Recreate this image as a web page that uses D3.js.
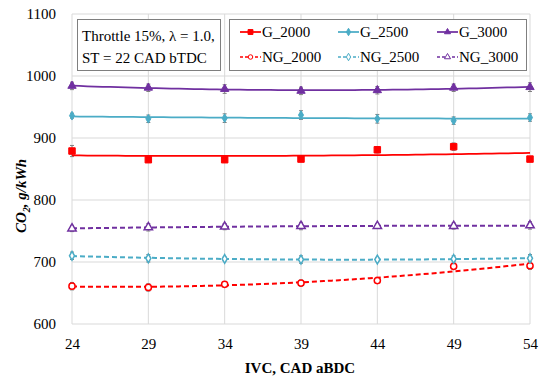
<!DOCTYPE html>
<html>
<head>
<meta charset="utf-8">
<script src="https://cdn.jsdelivr.net/npm/d3@7"></script>
<style>
  body { margin: 0; background: #fff; }
</style>
</head>
<body>
<svg width="550" height="379"></svg>
<script>
// IVC positions
var ivc = [24, 29, 34, 39, 44, 49, 54];

// CO2 values, g/kWh
var G_2000 = [879, 865, 865, 866, 881, 886, 866];
var G_2500 = [936, 931, 932, 937, 931, 928, 933];
var G_3000 = [984, 981, 979, 976, 977, 981, 982];
var NG_2000 = [661, 659, 664, 666, 670, 693, 694];
var NG_2500 = [710, 706, 705, 704, 704, 705, 706];
var NG_3000 = [754, 756, 757, 758, 758, 758, 759];

// error bar half-widths
var G_2000_err = [9, 4, 4, 4, 5, 6, 4];
var G_2500_err = [4, 6, 7, 7, 7, 6, 6];
var G_3000_err = [6, 6, 7, 6, 6, 6, 7];
var NG_2000_err = [6, 6, 4, 5, 4, 5, 6];
var NG_2500_err = [6, 6, 3, 6, 3, 5, 6];
var NG_3000_err = [5, 6, 5, 6, 4, 5, 6];

var yTicks = [600, 700, 800, 900, 1000, 1100];

var FONT = "'Liberation Serif', 'Times New Roman', serif";

var series = [
  { name: "G_2000", values: G_2000, err: G_2000_err, color: "#ff0000", dash: null, shape: "square", open: false },
  { name: "G_2500", values: G_2500, err: G_2500_err, color: "#4bacc6", dash: null, shape: "diamond", open: false },
  { name: "G_3000", values: G_3000, err: G_3000_err, color: "#7030a0", dash: null, shape: "triangle", open: false },
  { name: "NG_2000", values: NG_2000, err: NG_2000_err, color: "#ff0000", dash: "5,3", shape: "circle", open: true },
  { name: "NG_2500", values: NG_2500, err: NG_2500_err, color: "#4bacc6", dash: "5,3", shape: "diamond", open: true },
  { name: "NG_3000", values: NG_3000, err: NG_3000_err, color: "#7030a0", dash: "5,3", shape: "triangle", open: true }
];

var svg = d3.select("svg");
var margin = { left: 72, top: 14 };

var x = d3.scaleLinear().domain([24, 54]).range([0, 458]);
var y = d3.scaleLinear().domain([600, 1100]).range([310, 0]);

var g = svg.append("g")
  .attr("transform", "translate(" + margin.left + "," + margin.top + ")");

// grid
g.append("g").selectAll("line").data(yTicks).enter().append("line")
  .attr("x1", 0).attr("x2", x(54))
  .attr("y1", function (d) { return y(d); }).attr("y2", function (d) { return y(d); })
  .attr("stroke", "#d9d9d9").attr("stroke-width", 1);
g.append("g").selectAll("line").data(ivc).enter().append("line")
  .attr("x1", function (d) { return x(d); }).attr("x2", function (d) { return x(d); })
  .attr("y1", 0).attr("y2", y(600))
  .attr("stroke", "#d9d9d9").attr("stroke-width", 1);

// axes text
var xAxis = g.append("g").attr("transform", "translate(0," + y(600) + ")")
  .call(d3.axisBottom(x).tickValues(ivc).tickFormat(d3.format("d")).tickSize(0).tickPadding(14));
var yAxis = g.append("g")
  .call(d3.axisLeft(y).tickValues(yTicks).tickFormat(d3.format("d")).tickSize(0).tickPadding(16));
[xAxis, yAxis].forEach(function (a) {
  a.select(".domain").remove();
  a.selectAll("text").style("font-family", FONT).style("font-size", "15px").attr("fill", "#000");
});

// quadratic trend fit (least squares)
function quadFit(xs, ys) {
  var n = xs.length, s = [0, 0, 0, 0, 0], t = [0, 0, 0];
  for (var i = 0; i < n; i++) {
    var xi = xs[i] - 39;
    for (var k = 0; k < 5; k++) s[k] += Math.pow(xi, k);
    for (var k = 0; k < 3; k++) t[k] += ys[i] * Math.pow(xi, k);
  }
  var A = [[s[0], s[1], s[2], t[0]], [s[1], s[2], s[3], t[1]], [s[2], s[3], s[4], t[2]]];
  for (var c = 0; c < 3; c++) {
    for (var r = c + 1; r < 3; r++) {
      var f = A[r][c] / A[c][c];
      for (var k = c; k < 4; k++) A[r][k] -= f * A[c][k];
    }
  }
  var co = [0, 0, 0];
  for (var r = 2; r >= 0; r--) {
    var v = A[r][3];
    for (var k = r + 1; k < 3; k++) v -= A[r][k] * co[k];
    co[r] = v / A[r][r];
  }
  return function (xv) { var d = xv - 39; return co[0] + co[1] * d + co[2] * d * d; };
}

var line = d3.line().x(function (d) { return x(d[0]); }).y(function (d) { return y(d[1]); });

function symbolFor(shape) {
  if (shape === "square") return d3.symbol().type(d3.symbolSquare).size(42);
  if (shape === "diamond") return d3.symbol().type(d3.symbolDiamond).size(22);
  if (shape === "triangle") return d3.symbol().type(d3.symbolTriangle).size(30);
  return d3.symbol().type(d3.symbolCircle).size(30);
}

series.forEach(function (s) {
  var sg = g.append("g");
  var fit = quadFit(ivc, s.values);
  var pts = d3.range(24, 54.01, 0.5).map(function (v) { return [v, fit(v)]; });

  // error bars
  var eb = sg.append("g").attr("stroke", "#808080").attr("stroke-width", 1);
  s.values.forEach(function (v, i) {
    var cx = x(ivc[i]);
    eb.append("line").attr("x1", cx).attr("x2", cx)
      .attr("y1", y(v - s.err[i])).attr("y2", y(v + s.err[i]));
    eb.append("line").attr("x1", cx - 2).attr("x2", cx + 2)
      .attr("y1", y(v - s.err[i])).attr("y2", y(v - s.err[i]));
    eb.append("line").attr("x1", cx - 2).attr("x2", cx + 2)
      .attr("y1", y(v + s.err[i])).attr("y2", y(v + s.err[i]));
  });

  sg.append("path").datum(pts)
    .attr("d", line)
    .attr("fill", "none")
    .attr("stroke", s.color)
    .attr("stroke-width", s.dash ? 2 : 1.75)
    .attr("stroke-dasharray", s.dash);

  sg.selectAll("path.mk").data(s.values).enter().append("path")
    .attr("class", "mk")
    .attr("transform", function (d, i) { return "translate(" + x(ivc[i]) + "," + y(d) + ")"; })
    .attr("d", symbolFor(s.shape))
    .attr("fill", s.open ? "#fff" : s.color)
    .attr("stroke", s.color)
    .attr("stroke-width", s.open ? 1.5 : 1);
});

// annotation box
svg.append("rect").attr("x", 77.5).attr("y", 19.5).attr("width", 143).attr("height", 51)
  .attr("fill", "#fff").attr("stroke", "#7f7f7f").attr("stroke-width", 1);
svg.append("text").attr("x", 82).attr("y", 41)
  .style("font-family", FONT).style("font-size", "15px")
  .text("Throttle 15%, \u03bb = 1.0,");
svg.append("text").attr("x", 82).attr("y", 63)
  .style("font-family", FONT).style("font-size", "15px")
  .text("ST = 22 CAD bTDC");

// legend
var lg = svg.append("g");
lg.append("rect").attr("x", 229.5).attr("y", 19.5).attr("width", 297).attr("height", 51)
  .attr("fill", "#fff").attr("stroke", "#7f7f7f").attr("stroke-width", 1);
var colX = [240, 338, 437];
var rowY = [32, 57];
series.forEach(function (s, i) {
  var lx = colX[i % 3], ly = rowY[Math.floor(i / 3)];
  lg.append("line").attr("x1", lx).attr("x2", lx + 21).attr("y1", ly).attr("y2", ly)
    .attr("stroke", s.color).attr("stroke-width", s.dash ? 1.5 : 1.75)
    .attr("stroke-dasharray", s.dash ? "3,2" : null);
  lg.append("path").attr("transform", "translate(" + (lx + 10.5) + "," + ly + ")")
    .attr("d", symbolFor(s.shape).size(s.shape === "square" ? 24 : 16))
    .attr("fill", s.open ? "#fff" : s.color)
    .attr("stroke", s.color).attr("stroke-width", 1);
  lg.append("text").attr("x", lx + 22).attr("y", ly + 5)
    .style("font-family", FONT).style("font-size", "15px")
    .text(s.name);
});

// axis titles
svg.append("text").attr("x", 300).attr("y", 373).attr("text-anchor", "middle")
  .style("font-family", FONT).style("font-size", "15px").style("font-weight", "bold")
  .text("IVC, CAD aBDC");

var yl = svg.append("text").attr("transform", "translate(26,196) rotate(-90)")
  .attr("text-anchor", "middle")
  .style("font-family", FONT).style("font-size", "15px")
  .style("font-weight", "bold").style("font-style", "italic");
yl.append("tspan").text("CO");
yl.append("tspan").style("font-size", "10px").attr("dy", 4).text("2");
yl.append("tspan").attr("dy", -4).text(", g/kWh");
</script>
</body>
</html>
